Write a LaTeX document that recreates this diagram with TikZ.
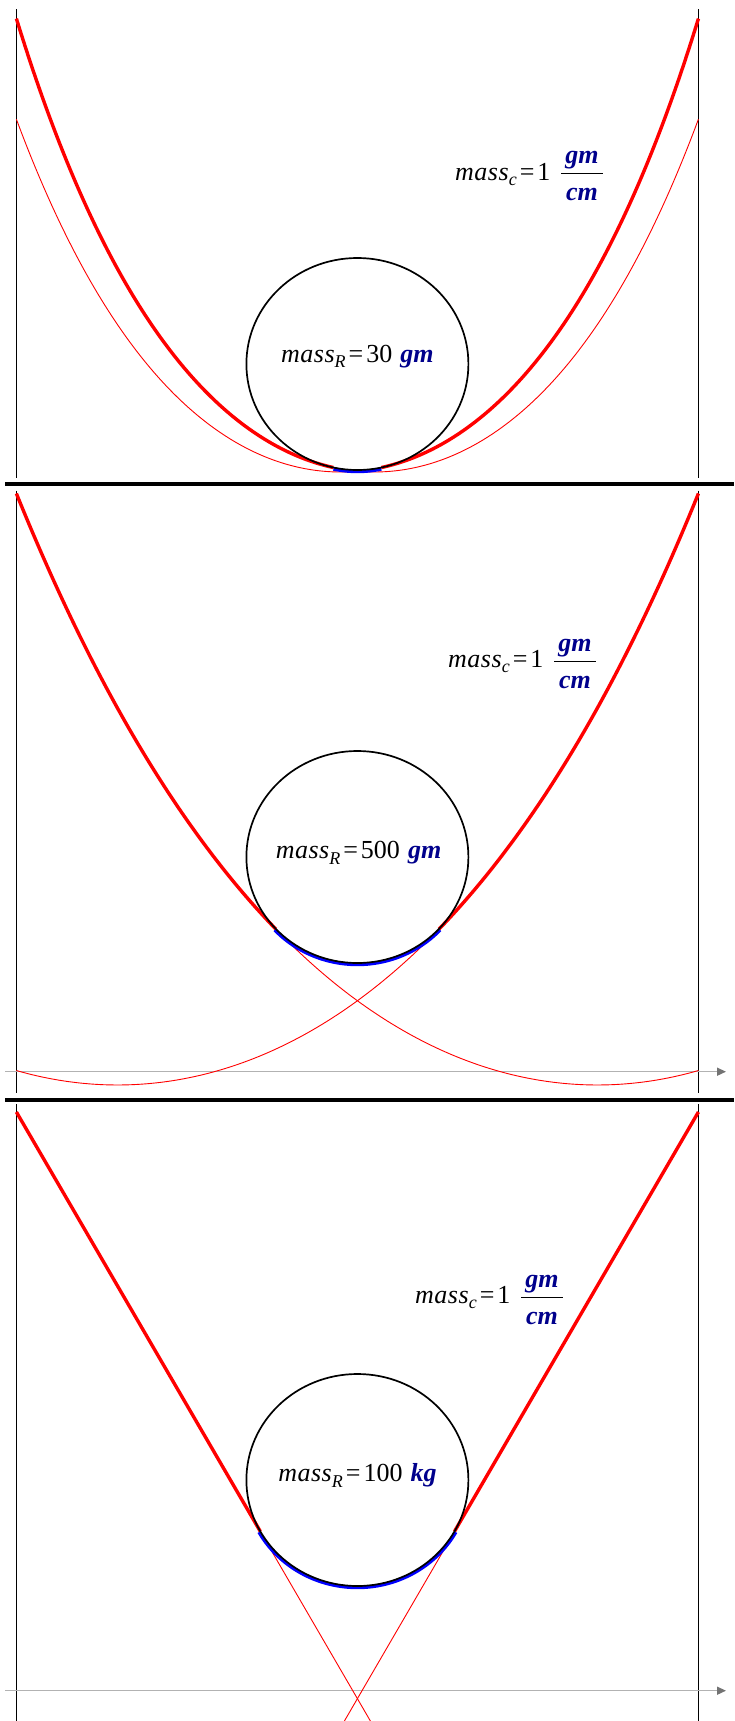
\documentclass[tikz,border=0pt]{standalone}
\usepackage{fontspec}
\setmainfont{Liberation Serif}
\usetikzlibrary{arrows.meta}
\definecolor{unitblue}{RGB}{0,0,140}
\newcommand{\Mass}{{\addfontfeatures{LetterSpace=2}\itshape mass}}
\newcommand{\Sub}[1]{\raisebox{-5.5pt}{\fontsize{18}{18}\selectfont\itshape #1}}
\newcommand{\Unit}[1]{{\color{unitblue}\bfseries\itshape #1}}
\newcommand{\Eq}{\hspace{3pt}=\hspace{3pt}}
\begin{document}
\begin{tikzpicture}[x=1pt,y=-1pt,
  frame/.style={line width=1.6pt,black},
  sep/.style={line width=3.2pt,black},
  chain/.style={red,line width=3.4pt},
  ext/.style={red,line width=0.9pt},
  contact/.style={blue,line width=3.4pt},
  ring/.style={black,line width=1.7pt},
  bar/.style={black,line width=1pt},
  axisline/.style={black!30,line width=1.5pt,-{Triangle[length=9pt,width=8pt,color=black!55]}},
  lbl/.style={font=\fontsize{26}{30}\selectfont,inner sep=0pt,anchor=base west},
  lblc/.style={lbl,anchor=base}
]
\useasboundingbox (0,0) rectangle (734,1721);
% separators
\draw[sep] (5,484) -- (734,484);
\draw[sep] (5,1100) -- (734,1100);
% ---------------- panel 1 ----------------
\draw[frame] (16.4,9) -- (16.4,478);
\draw[frame] (698.4,9) -- (698.4,478);
\draw[ext] plot[domain=16.4:698.4,samples=120,smooth] (\x,{472-189*(cosh((\x-340.4)/189)-1)});
\draw[ext] plot[domain=16.4:698.4,samples=120,smooth] (\x,{472-189*(cosh((\x-374.4)/189)-1)});
\draw[chain] plot[domain=16.4:333.4,samples=80,smooth] (\x,{472-189*(cosh((\x-374.4)/189)-1)});
\draw[chain] plot[domain=381.4:698.4,samples=80,smooth] (\x,{472-189*(cosh((\x-340.4)/189)-1)});
\draw[contact] plot[domain=77.7:102.3,samples=20,smooth] ({357.4+112.5*cos(\x)},{364+107.5*sin(\x)});
\draw[ring] (357.4,364) ellipse [x radius=111pt,y radius=106pt];
\node[lbl] (mc1) at (455,180) {\Mass\Sub{c}\Eq 1};
\draw[bar] (561,173) -- (603,173);
\node[lblc] (nc1) at (582,163.5) {\Unit{gm}};
\node[lblc] (dc1) at (582,200) {\Unit{cm}};
\node[lblc] (mr1) at (357.4,362) {\Mass\Sub{R}\Eq 30\hspace{8pt}\Unit{gm}};
% ---------------- panel 2 ----------------
\draw[frame] (16.4,490.7) -- (16.4,1093);
\draw[frame] (698.4,490.7) -- (698.4,1093);
\draw[axisline] (5,1071.7) -- (726,1071.7);
\draw[ext] plot[domain=16.4:698.4,samples=120,smooth] (\x,{1085-355*(cosh((\x-117.4)/355)-1)});
\draw[ext] plot[domain=16.4:698.4,samples=120,smooth] (\x,{1085-355*(cosh((\x-597.4)/355)-1)});
\draw[chain] plot[domain=16.4:275.8,samples=80,smooth] (\x,{1085-355*(cosh((\x-597.4)/355)-1)});
\draw[chain] plot[domain=439:698.4,samples=80,smooth] (\x,{1085-355*(cosh((\x-117.4)/355)-1)});
\draw[contact] plot[domain=42.7:137.3,samples=40,smooth] ({357.4+112.5*cos(\x)},{857+107.5*sin(\x)});
\draw[ring] (357.4,857) ellipse [x radius=111pt,y radius=106pt];
\node[lbl] (mc2) at (448,667) {\Mass\Sub{c}\Eq 1};
\draw[bar] (554,661) -- (596,661);
\node[lblc] (nc2) at (575,651.5) {\Unit{gm}};
\node[lblc] (dc2) at (575,688) {\Unit{cm}};
\node[lblc] (mr2) at (358.5,858.5) {\Mass\Sub{R}\Eq 500\hspace{8pt}\Unit{gm}};
% ---------------- panel 3 ----------------
\draw[frame] (16.4,1104) -- (16.4,1721);
\draw[frame] (698.4,1104) -- (698.4,1721);
\draw[axisline] (5,1690.7) -- (726,1690.7);
\coordinate (tl) at (16.4,1112);
\coordinate (tr) at (698.4,1112);
\coordinate (kl) at (260.3,1531.4);
\coordinate (kr) at (454.5,1531.4);
\coordinate (bl) at (370.4,1721);
\coordinate (br) at (344.4,1721);
\draw[ext] (tl) -- (bl);
\draw[ext] (tr) -- (br);
\draw[chain] (tl) -- (kl);
\draw[chain] (tr) -- (kr);
\draw[contact] plot[domain=29:151,samples=50,smooth] ({357.4+112.5*cos(\x)},{1480+107.5*sin(\x)});
\draw[ring] (357.4,1480) ellipse [x radius=111pt,y radius=106pt];
\node[lbl] (mc3) at (415,1303) {\Mass\Sub{c}\Eq 1};
\draw[bar] (521,1297) -- (563,1297);
\node[lblc] (nc3) at (542,1287.5) {\Unit{gm}};
\node[lblc] (dc3) at (542,1324) {\Unit{cm}};
\node[lblc] (mr3) at (357.4,1481.5) {\Mass\Sub{R}\Eq 100\hspace{8pt}\Unit{kg}};
\end{tikzpicture}
\end{document}
